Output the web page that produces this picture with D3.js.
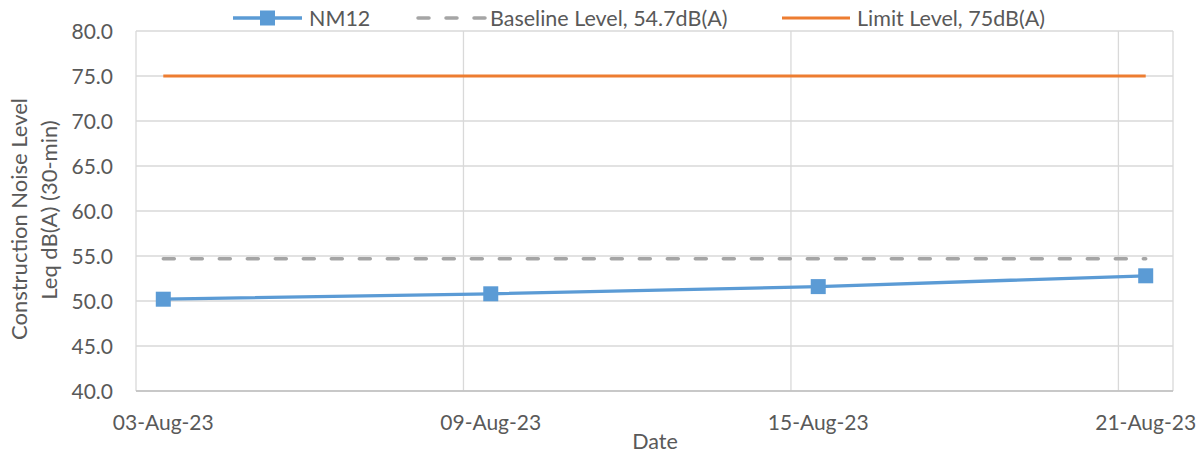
<!DOCTYPE html>
<html><head><meta charset="utf-8">
<script src="https://cdn.jsdelivr.net/npm/d3@7"></script>
<style>
html,body{margin:0;padding:0;background:#fff;}
text{font-family:Lato,"Open Sans",sans-serif;fill:#595959;}
</style></head>
<body>
<svg id="chart" width="1203" height="457"></svg>
<script>
// ---- data ----
const dates = ["2023-08-03","2023-08-09","2023-08-15","2023-08-21"];
const nm12 = [50.2, 50.8, 51.6, 52.8];
const baseline = [54.7, 54.7, 54.7, 54.7];
const limit = [75, 75, 75, 75];
const yTicks = [40,45,50,55,60,65,70,75,80];
const xTickLabels = ["03-Aug-23","09-Aug-23","15-Aug-23","21-Aug-23"];
const seriesNames = ["NM12","Baseline Level, 54.7dB(A)","Limit Level, 75dB(A)"];

const parse = d3.timeParse("%Y-%m-%d");
const dts = dates.map(parse);
const half = d => d3.timeHour.offset(d, -12);

const svg = d3.select("#chart");
const L = 136, R = 1173, T = 31, B = 391;
const x = d3.scaleTime()
  .domain([half(dts[0]), d3.timeHour.offset(dts[dts.length-1], 12)])
  .range([L, R]);
const y = d3.scaleLinear().domain([40, 80]).range([B, T]);

const grid = "#D9D9D9";
svg.append("g").selectAll("line").data(yTicks).join("line")
  .attr("x1", L).attr("x2", R)
  .attr("y1", d => y(d)).attr("y2", d => y(d))
  .attr("stroke", grid).attr("stroke-width", 1.3);
svg.append("g").selectAll("line").data(dts.map(half)).join("line")
  .attr("x1", d => x(d)).attr("x2", d => x(d))
  .attr("y1", T).attr("y2", B)
  .attr("stroke", grid).attr("stroke-width", 1.3);
svg.append("line").attr("x1", R).attr("x2", R).attr("y1", T).attr("y2", B)
  .attr("stroke", grid).attr("stroke-width", 1.3);
svg.append("line").attr("x1", L).attr("x2", R).attr("y1", B).attr("y2", B)
  .attr("stroke", "#BFBFBF").attr("stroke-width", 1.5);

svg.append("g").selectAll("text").data(yTicks).join("text")
  .attr("x", 113).attr("y", d => y(d)).attr("dy", "0.36em")
  .attr("text-anchor", "end").attr("font-size", 21)
  .text(d => d.toFixed(1));
svg.append("g").selectAll("text").data(dts).join("text")
  .attr("x", d => x(d)).attr("y", 430)
  .attr("text-anchor", "middle").attr("font-size", 21)
  .text((d,i) => xTickLabels[i]);

svg.append("text").attr("x", 655).attr("y", 449).attr("text-anchor","middle")
  .attr("font-size", 21.5).text("Date");
svg.append("text").attr("transform","translate(27,219) rotate(-90)")
  .attr("text-anchor","middle").attr("font-size", 22).text("Construction Noise Level");
svg.append("text").attr("transform","translate(57,210) rotate(-90)")
  .attr("text-anchor","middle").attr("font-size", 22).text("Leq dB(A) (30-min)");

const line = d3.line().x((d,i) => x(dts[i])).y(d => y(d));
const blue = "#5B9BD5", gray = "#A5A5A5", orange = "#ED7D31";

svg.append("path").datum(limit).attr("d", line)
  .attr("fill","none").attr("stroke", orange).attr("stroke-width", 3);
svg.append("path").datum(baseline).attr("d", line)
  .attr("fill","none").attr("stroke", gray).attr("stroke-width", 3.5)
  .attr("stroke-dasharray","11,17").attr("stroke-linecap","round");
svg.append("path").datum(nm12).attr("d", line)
  .attr("fill","none").attr("stroke", blue).attr("stroke-width", 3.3);
svg.append("g").selectAll("rect").data(nm12).join("rect")
  .attr("x", (d,i) => x(dts[i]) - 7.5).attr("y", d => y(d) - 7.5)
  .attr("width", 15).attr("height", 15).attr("fill", blue);

const lg = svg.append("g");
const ly = 18;
lg.append("line").attr("x1",233).attr("x2",302).attr("y1",ly).attr("y2",ly)
  .attr("stroke",blue).attr("stroke-width",3.3);
lg.append("rect").attr("x",260).attr("y",ly-7.5).attr("width",15).attr("height",15).attr("fill",blue);
lg.append("text").attr("x",309).attr("y",ly).attr("dy","0.35em").attr("font-size",21.5).text(seriesNames[0]);
lg.append("line").attr("x1",418).attr("x2",486).attr("y1",ly).attr("y2",ly)
  .attr("stroke",gray).attr("stroke-width",3.5).attr("stroke-dasharray","11,17").attr("stroke-linecap","round");
lg.append("text").attr("x",490).attr("y",ly).attr("dy","0.35em").attr("font-size",21.5).text(seriesNames[1]);
lg.append("line").attr("x1",782).attr("x2",850).attr("y1",ly).attr("y2",ly)
  .attr("stroke",orange).attr("stroke-width",3);
lg.append("text").attr("x",857).attr("y",ly).attr("dy","0.35em").attr("font-size",21.5).text(seriesNames[2]);
</script>
</body></html>
